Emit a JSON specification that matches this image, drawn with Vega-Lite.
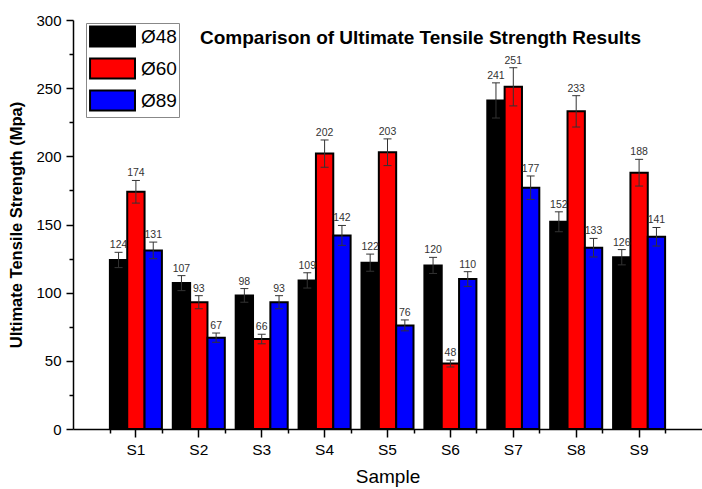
{
  "$schema": "https://vega.github.io/schema/vega-lite/v6.json",
  "width": 629,
  "height": 409,
  "autosize": {"type": "none"},
  "padding": {"left": 73, "top": 20, "right": 0, "bottom": 60},
  "background": "white",
  "config": {"font": "Liberation Sans", "view": {"stroke": null}},
  "title": {"text": "Comparison of Ultimate Tensile Strength Results", "font": "Liberation Sans", "fontSize": 19, "fontWeight": "bold", "color": "black", "anchor": "middle", "dx": 33, "offset": -35},
  "data": {"values": [
    {"sample": "S1", "series": "Ø48", "value": 124, "lo": 118.4, "hi": 129.6},
    {"sample": "S1", "series": "Ø60", "value": 174, "lo": 165.7, "hi": 182.3},
    {"sample": "S1", "series": "Ø89", "value": 131, "lo": 124.9, "hi": 137.1},
    {"sample": "S2", "series": "Ø48", "value": 107, "lo": 101.5, "hi": 112.5},
    {"sample": "S2", "series": "Ø60", "value": 93, "lo": 88.2, "hi": 97.8},
    {"sample": "S2", "series": "Ø89", "value": 67, "lo": 63.6, "hi": 70.4},
    {"sample": "S3", "series": "Ø48", "value": 98, "lo": 93, "hi": 103},
    {"sample": "S3", "series": "Ø60", "value": 66, "lo": 62.5, "hi": 69.5},
    {"sample": "S3", "series": "Ø89", "value": 93, "lo": 88.2, "hi": 97.8},
    {"sample": "S4", "series": "Ø48", "value": 109, "lo": 103.4, "hi": 114.6},
    {"sample": "S4", "series": "Ø60", "value": 202, "lo": 192, "hi": 212},
    {"sample": "S4", "series": "Ø89", "value": 142, "lo": 134.7, "hi": 149.3},
    {"sample": "S5", "series": "Ø48", "value": 122, "lo": 115.7, "hi": 128.3},
    {"sample": "S5", "series": "Ø60", "value": 203, "lo": 193.2, "hi": 212.8},
    {"sample": "S5", "series": "Ø89", "value": 76, "lo": 72, "hi": 80},
    {"sample": "S6", "series": "Ø48", "value": 120, "lo": 114.1, "hi": 125.9},
    {"sample": "S6", "series": "Ø60", "value": 48, "lo": 45.5, "hi": 50.5},
    {"sample": "S6", "series": "Ø89", "value": 110, "lo": 104.6, "hi": 115.4},
    {"sample": "S7", "series": "Ø48", "value": 241, "lo": 228.1, "hi": 253.9},
    {"sample": "S7", "series": "Ø60", "value": 251, "lo": 237, "hi": 265},
    {"sample": "S7", "series": "Ø89", "value": 177, "lo": 168.4, "hi": 185.6},
    {"sample": "S8", "series": "Ø48", "value": 152, "lo": 144.7, "hi": 159.3},
    {"sample": "S8", "series": "Ø60", "value": 233, "lo": 221.5, "hi": 244.5},
    {"sample": "S8", "series": "Ø89", "value": 133, "lo": 126.2, "hi": 139.8},
    {"sample": "S9", "series": "Ø48", "value": 126, "lo": 120.4, "hi": 131.6},
    {"sample": "S9", "series": "Ø60", "value": 188, "lo": 178.2, "hi": 197.8},
    {"sample": "S9", "series": "Ø89", "value": 141, "lo": 134.2, "hi": 147.8}
  ]},
  "resolve": {"axis": {"y": "independent", "x": "independent"}},
  "layer": [
    {
      "mark": {"type": "bar", "stroke": "black", "strokeWidth": 2},
      "encoding": {
        "x": {"field": "sample", "type": "nominal", "scale": {"paddingInner": 0.173, "paddingOuter": 0.5865},
          "axis": {"orient": "bottom", "title": "Sample", "titleFontSize": 19, "titleFontWeight": "normal", "titleColor": "black", "titlePadding": 10,
            "labelFontSize": 15.5, "labelColor": "black", "labelAngle": 0, "labelPadding": 5, "tickSize": 8, "tickWidth": 1.5, "tickColor": "black", "domainColor": "black", "domainWidth": 1.5, "grid": false}},
        "xOffset": {"field": "series", "type": "nominal", "scale": {"paddingInner": 0, "paddingOuter": 0}},
        "y": {"field": "value", "type": "quantitative", "scale": {"domain": [0, 300], "nice": false},
          "axis": {"orient": "left", "values": [0, 50, 100, 150, 200, 250, 300], "title": "Ultimate Tensile Strength (Mpa)", "titleFontSize": 16.5, "titleFontWeight": "bold", "titleColor": "black", "titlePadding": 11,
            "labelFontSize": 15, "labelColor": "black", "labelPadding": 5, "tickSize": 7, "tickWidth": 1.5, "tickColor": "black", "domainColor": "black", "domainWidth": 1.5, "grid": false}},
        "color": {"field": "series", "type": "nominal", "scale": {"domain": ["Ø48", "Ø60", "Ø89"], "range": ["#000000", "#ff0000", "#0000ff"]},
          "legend": {"title": null, "orient": "none", "legendX": 13, "legendY": 3, "symbolType": "M-0.9,-0.95H3.38V0.95H-0.9Z", "symbolSize": 441, "symbolStrokeColor": "black", "symbolStrokeWidth": 2, "symbolOpacity": 1,
            "labelFontSize": 19, "labelColor": "black", "labelOffset": 30, "labelExpr": "datum.label + ' '", "rowPadding": 3, "padding": 2, "strokeColor": "#888888", "fillColor": "white"}}
      }
    },
    {
      "mark": {"type": "rule", "color": "#333333", "strokeWidth": 1},
      "encoding": {
        "x": {"field": "sample", "type": "nominal", "axis": {"orient": "bottom", "tickBand": "extent", "tickOffset": -5.44, "labels": false, "domain": false, "title": null, "tickSize": 4, "tickWidth": 1.5, "tickColor": "black", "grid": false}},
        "xOffset": {"field": "series", "type": "nominal"},
        "y": {"field": "lo", "type": "quantitative", "axis": {"values": [25, 75, 125, 175, 225, 275], "orient": "left", "labels": false, "domain": false, "title": null, "tickSize": 4, "tickWidth": 1.5, "tickColor": "black", "grid": false}},
        "y2": {"field": "hi"}
      }
    },
    {
      "mark": {"type": "tick", "orient": "horizontal", "size": 8, "thickness": 1, "color": "#333333", "opacity": 1},
      "encoding": {
        "x": {"field": "sample", "type": "nominal", "axis": null},
        "xOffset": {"field": "series", "type": "nominal"},
        "y": {"field": "hi", "type": "quantitative", "axis": null}
      }
    },
    {
      "mark": {"type": "tick", "orient": "horizontal", "size": 8, "thickness": 1, "color": "#333333", "opacity": 1},
      "encoding": {
        "x": {"field": "sample", "type": "nominal", "axis": null},
        "xOffset": {"field": "series", "type": "nominal"},
        "y": {"field": "lo", "type": "quantitative", "axis": null}
      }
    },
    {
      "mark": {"type": "text", "fontSize": 10.5, "color": "#333333", "baseline": "alphabetic", "dy": -4},
      "encoding": {
        "x": {"field": "sample", "type": "nominal", "axis": null},
        "xOffset": {"field": "series", "type": "nominal"},
        "y": {"field": "hi", "type": "quantitative", "axis": null},
        "text": {"field": "value", "type": "quantitative"}
      }
    }
  ]
}
